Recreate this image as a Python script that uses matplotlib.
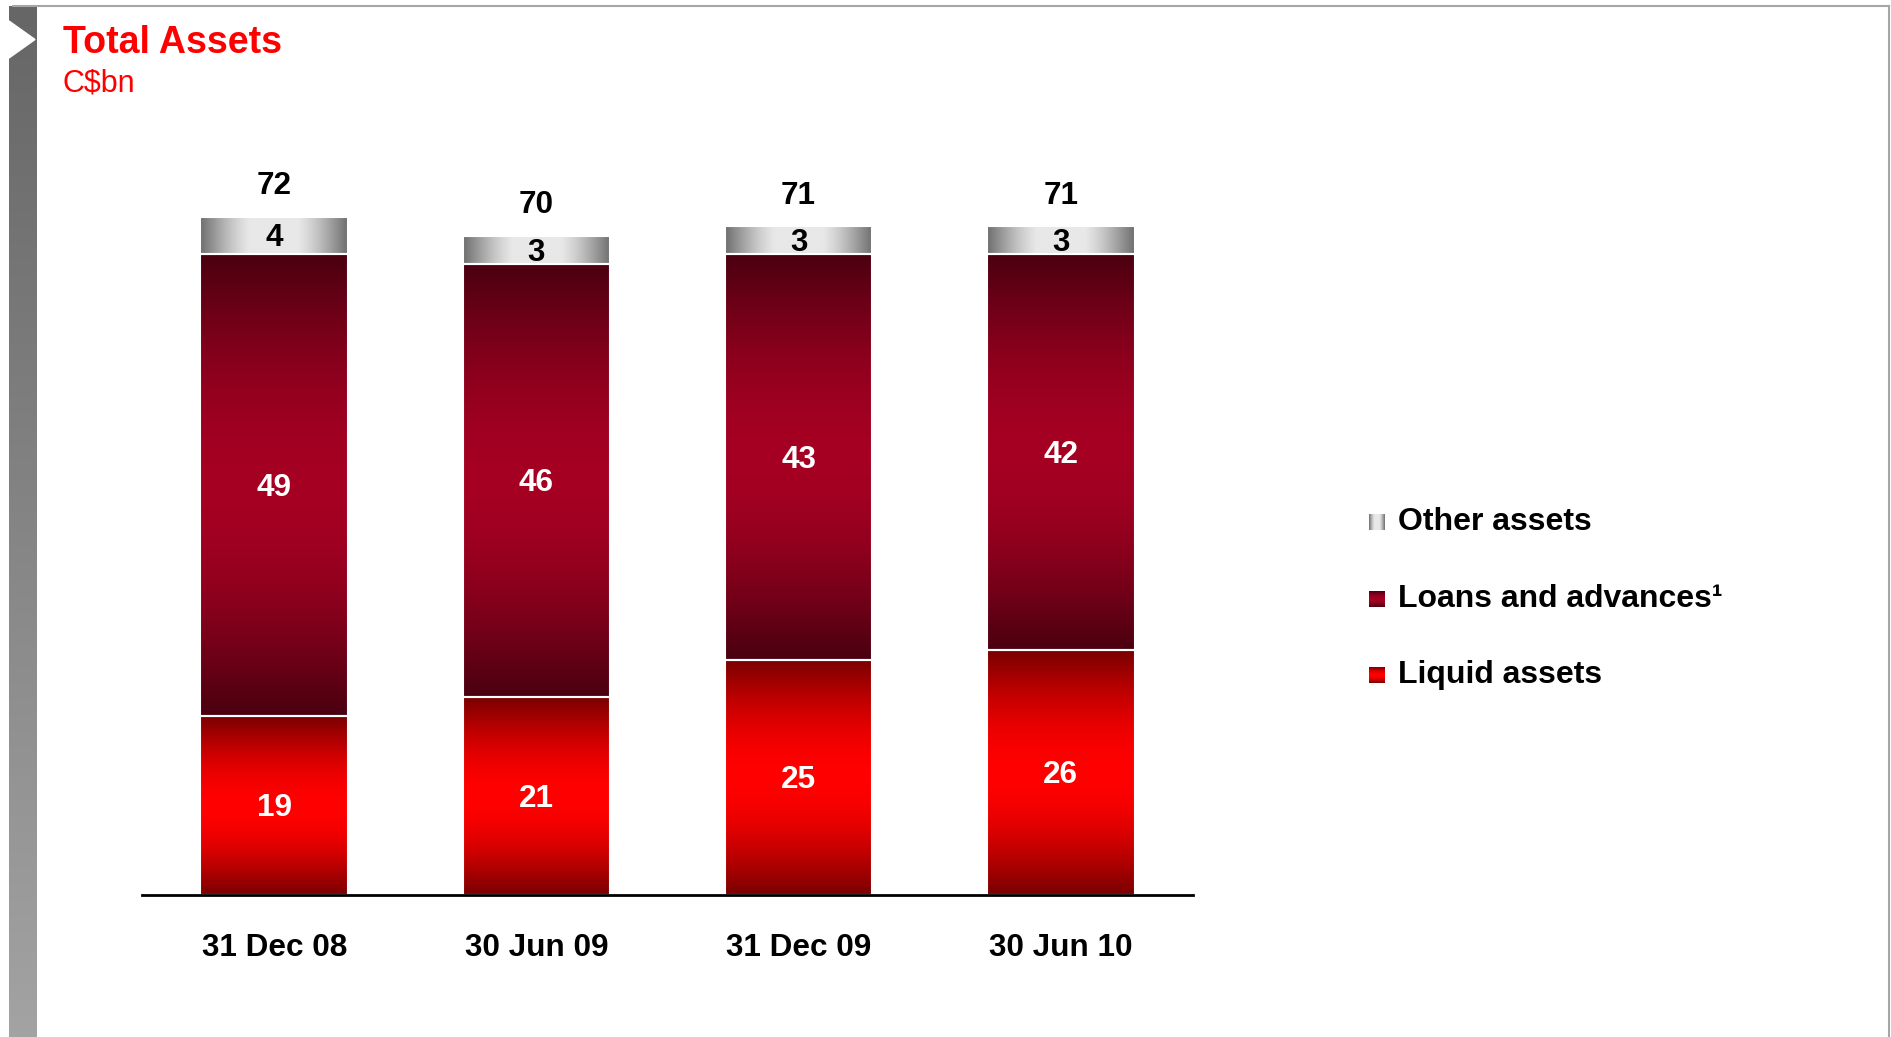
import numpy as np
import matplotlib
matplotlib.use("Agg")
import matplotlib.pyplot as plt
from matplotlib.colors import LinearSegmentedColormap
from matplotlib.patches import Polygon

plt.rcParams['font.family'] = ['Liberation Sans', 'DejaVu Sans']

# data
periods = ["31 Dec 08", "30 Jun 09", "31 Dec 09", "30 Jun 10"]
liquid = [19, 21, 25, 26]
loans = [49, 46, 43, 42]
other = [4, 3, 3, 3]
totals = [72, 70, 71, 71]
series_names = ["Other assets", "Loans and advances\u00b9", "Liquid assets"]

RED = "#ff0000"
FS = 22.7

# dark edge -> bright centre, fed with a sine profile so the middle is broad
cm_liquid = LinearSegmentedColormap.from_list("liq", ["#7a0000", "#ff0000"])
cm_loans = LinearSegmentedColormap.from_list("loa", ["#4a0010", "#a50022"])
cm_other = LinearSegmentedColormap.from_list("oth", ["#6e6e6e", "#e8e8e8"])
prof = np.sin(np.pi * np.linspace(0, 1, 256))
vgrad = prof.reshape(-1, 1)
hgrad = np.clip(prof * 1.15, 0, 1).reshape(1, -1)

W, H = 1891, 1037
fig = plt.figure(figsize=(W / 100, H / 100), dpi=100)

# overlay in pixel coords for the slide frame
over = fig.add_axes([0, 0, 1, 1], zorder=0)
over.axis("off")
cm_side = LinearSegmentedColormap.from_list("side", ["#666666", "#a3a3a3"])
over.imshow(np.linspace(0, 1, 256).reshape(-1, 1), cmap=cm_side,
            extent=[9, 37, H, 6], aspect="auto")
over.add_patch(Polygon([(9, 21), (35, 39.5), (9, 58)], closed=True, color="white"))
over.plot([13, 1889], [6, 6], color="#a6a6a6", lw=1.5)
over.plot([1889, 1889], [6, H], color="#a6a6a6", lw=1.5)

over.text(63, 53, "Total Assets", color=RED, fontsize=27, fontweight="bold", va="baseline")
over.text(63, 92, "C$bn", color=RED, fontsize=22, va="baseline")

# legend
leg_y = [522, 599, 675]
leg_maps = [(cm_other, hgrad), (cm_loans, vgrad), (cm_liquid, vgrad)]
for name, y, (cm, g) in zip(series_names, leg_y, leg_maps):
    over.imshow(g, cmap=cm, vmin=0, vmax=1, extent=[1369, 1385, y + 8, y - 8], aspect="auto")
    over.text(1398, y, name, fontsize=23, fontweight="bold", va="center")
over.set_xlim(0, W)
over.set_ylim(H, 0)

# main chart
ax = fig.add_axes([142 / W, (H - 895) / H, 1051 / W, 9.42 * 80 / H], zorder=1)
ax.patch.set_alpha(0)
x = np.arange(len(periods))
width = 0.564

bottoms = np.zeros(len(periods))
stack = [(liquid, cm_liquid, vgrad, "white"),
         (loans, cm_loans, vgrad, "white"),
         (other, cm_other, hgrad, "black")]
for vals, cm, g, tc in stack:
    bars = ax.bar(x, vals, width, bottom=bottoms, facecolor="none",
                  edgecolor="white", linewidth=1.5, zorder=3)
    for b, v in zip(bars, vals):
        x0, y0 = b.get_x(), b.get_y()
        ax.imshow(g, cmap=cm, vmin=0, vmax=1, aspect="auto", zorder=2,
                  extent=[x0, x0 + b.get_width(), y0, y0 + b.get_height()])
        ax.annotate(str(v), (x0 + b.get_width() / 2, y0 + b.get_height() / 2),
                    xytext=(0, -2), textcoords="offset points",
                    ha="center", va="center", color=tc, fontsize=FS,
                    fontweight="bold", zorder=4)
    bottoms = bottoms + np.array(vals)

for xi, t in zip(x, totals):
    ax.annotate(str(t), (xi, t), xytext=(0, 22), textcoords="offset points",
                ha="center", va="center", fontsize=FS, fontweight="bold")

ax.set_xlim(-0.505, 3.505)
ax.set_ylim(0, 80)
for s in ["top", "right", "left"]:
    ax.spines[s].set_visible(False)
ax.spines["bottom"].set_linewidth(2)
ax.spines["bottom"].set_zorder(5)
ax.set_yticks([])
ax.set_xticks(x)
ax.set_xticklabels(periods, fontsize=FS, fontweight="bold")
ax.tick_params(axis="x", length=0, pad=27)

fig.savefig("out.png", dpi=100)
